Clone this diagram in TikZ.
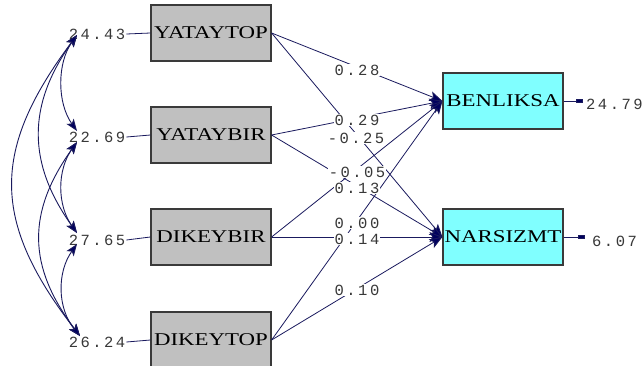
\documentclass[tikz,border=0pt]{standalone}
\usepackage{fontspec}
\usepackage{graphicx}
\setmainfont{Liberation Serif}
\newfontfamily\monof[LetterSpace=16]{Liberation Mono}
\usetikzlibrary{arrows.meta}
\definecolor{navy}{HTML}{1A1A5E}
\definecolor{headc}{HTML}{00005E}
\definecolor{boxgray}{HTML}{C0C0C0}
\definecolor{boxcyan}{HTML}{80FFFF}
\definecolor{edgec}{HTML}{3A3A3A}
\definecolor{numc}{HTML}{383838}
\newcommand{\widetxt}[1]{\scalebox{1.27}[1]{#1}}
\begin{document}
\begin{tikzpicture}[x=1pt,y=-1pt,
  obs/.style={draw=edgec, line width=1.2pt, fill=boxgray, minimum width=120pt, minimum height=56pt, inner sep=0pt, font=\fontsize{18}{18}\selectfont},
  lat/.style={obs, fill=boxcyan},
  num/.style={inner sep=1pt, text=numc, font=\monof\fontsize{15.5}{15.5}\selectfont},
  plab/.style={num, fill=white, inner sep=0.5pt},
  path/.style={draw=navy, line width=0.8pt, -{Stealth[length=13pt,width=10pt,inset=3pt,fill=headc]}},
  cov/.style={draw=navy, line width=0.9pt, {Stealth[length=12pt,width=9pt,inset=3pt,fill=headc]}-{Stealth[length=12pt,width=9pt,inset=3pt,fill=headc]}},
  link/.style={draw=navy, line width=0.8pt},
  err/.style={draw=navy, line width=0.8pt, {Rectangle[length=7pt,width=4pt,fill=headc]}-}
]
\useasboundingbox (0,0) rectangle (642,365);
\fill[white] (0,0) rectangle (642,365);

% observed boxes
\node[obs] (n1) at (211,33)  {\widetxt{YATAYTOP}};
\node[obs] (n2) at (211,135) {\widetxt{YATAYBIR}};
\node[obs] (n3) at (211,237) {\widetxt{DIKEYBIR}};
\node[obs] (n4) at (211,340) {\widetxt{DIKEYTOP}};
% dependent boxes
\node[lat] (b1) at (503,101) {\widetxt{BENLIKSA}};
\node[lat] (b2) at (503,237) {\widetxt{NARSIZMT}};

% variance labels
\node[num] (v1) at (97,34)  {24.43};
\node[num] (v2) at (97,137) {22.69};
\node[num] (v3) at (97,240) {27.65};
\node[num] (v4) at (97,342) {26.24};
\draw[link] (v1.east) -- (n1.west);
\draw[link] (v2.east) -- (n2.west);
\draw[link] (v3.east) -- (n3.west);
\draw[link] (v4.east) -- (n4.west);

% covariance arc end points
\coordinate (p1)  at (77,35);
\coordinate (p2a) at (77,131);
\coordinate (p2b) at (77,142);
\coordinate (p3a) at (77,233);
\coordinate (p3b) at (77,244);
\coordinate (p4)  at (80,336);

\draw[cov] (p1) .. controls +(-20,28) and +(-20,-28) .. (p2a);
\draw[cov] (p2b) .. controls +(-20,28) and +(-20,-28) .. (p3a);
\draw[cov] (p3b) .. controls +(-20,28) and +(-23,-28) .. (p4);
\draw[cov] (p1) .. controls +(-50,70) and +(-50,-70) .. (p3a);
\draw[cov] (p2b) .. controls +(-50,70) and +(-53,-70) .. (p4);
\draw[cov] (p1) .. controls +(-86,115) and +(-89,-115) .. (p4);

% structural paths
\draw[path] (n1.east) -- (b1.west);
\draw[path] (n1.east) -- (b2.west);
\draw[path] (n2.east) -- (b1.west);
\draw[path] (n2.east) -- (b2.west);
\draw[path] (n3.east) -- (b1.west);
\draw[path] (n3.east) -- (b2.west);
\draw[path] (n4.east) -- (b1.west);
\draw[path] (n4.east) -- (b2.west);

% path coefficients
\node[plab] (c1) at (357,70)  {0.28};
\node[plab] (c3) at (357,120) {0.29};
\node[plab] (c2) at (356,138) {-0.25};
\node[plab] (c4) at (357,172) {-0.05};
\node[plab] (c5) at (357,188) {0.13};
\node[plab] (c7) at (357,223) {0.00};
\node[plab] (c6) at (357,239) {0.14};
\node[plab] (c8) at (357,290) {0.10};

% error variances
\node[num, anchor=west] (e1) at (585,104) {24.79};
\node[num, anchor=west] (e2) at (591,241) {6.07};
\coordinate (t1) at (583,101);
\coordinate (t2) at (585,237);
\draw[err] (t1) -- (b1.east);
\draw[err] (t2) -- (b2.east);
\end{tikzpicture}
\end{document}
